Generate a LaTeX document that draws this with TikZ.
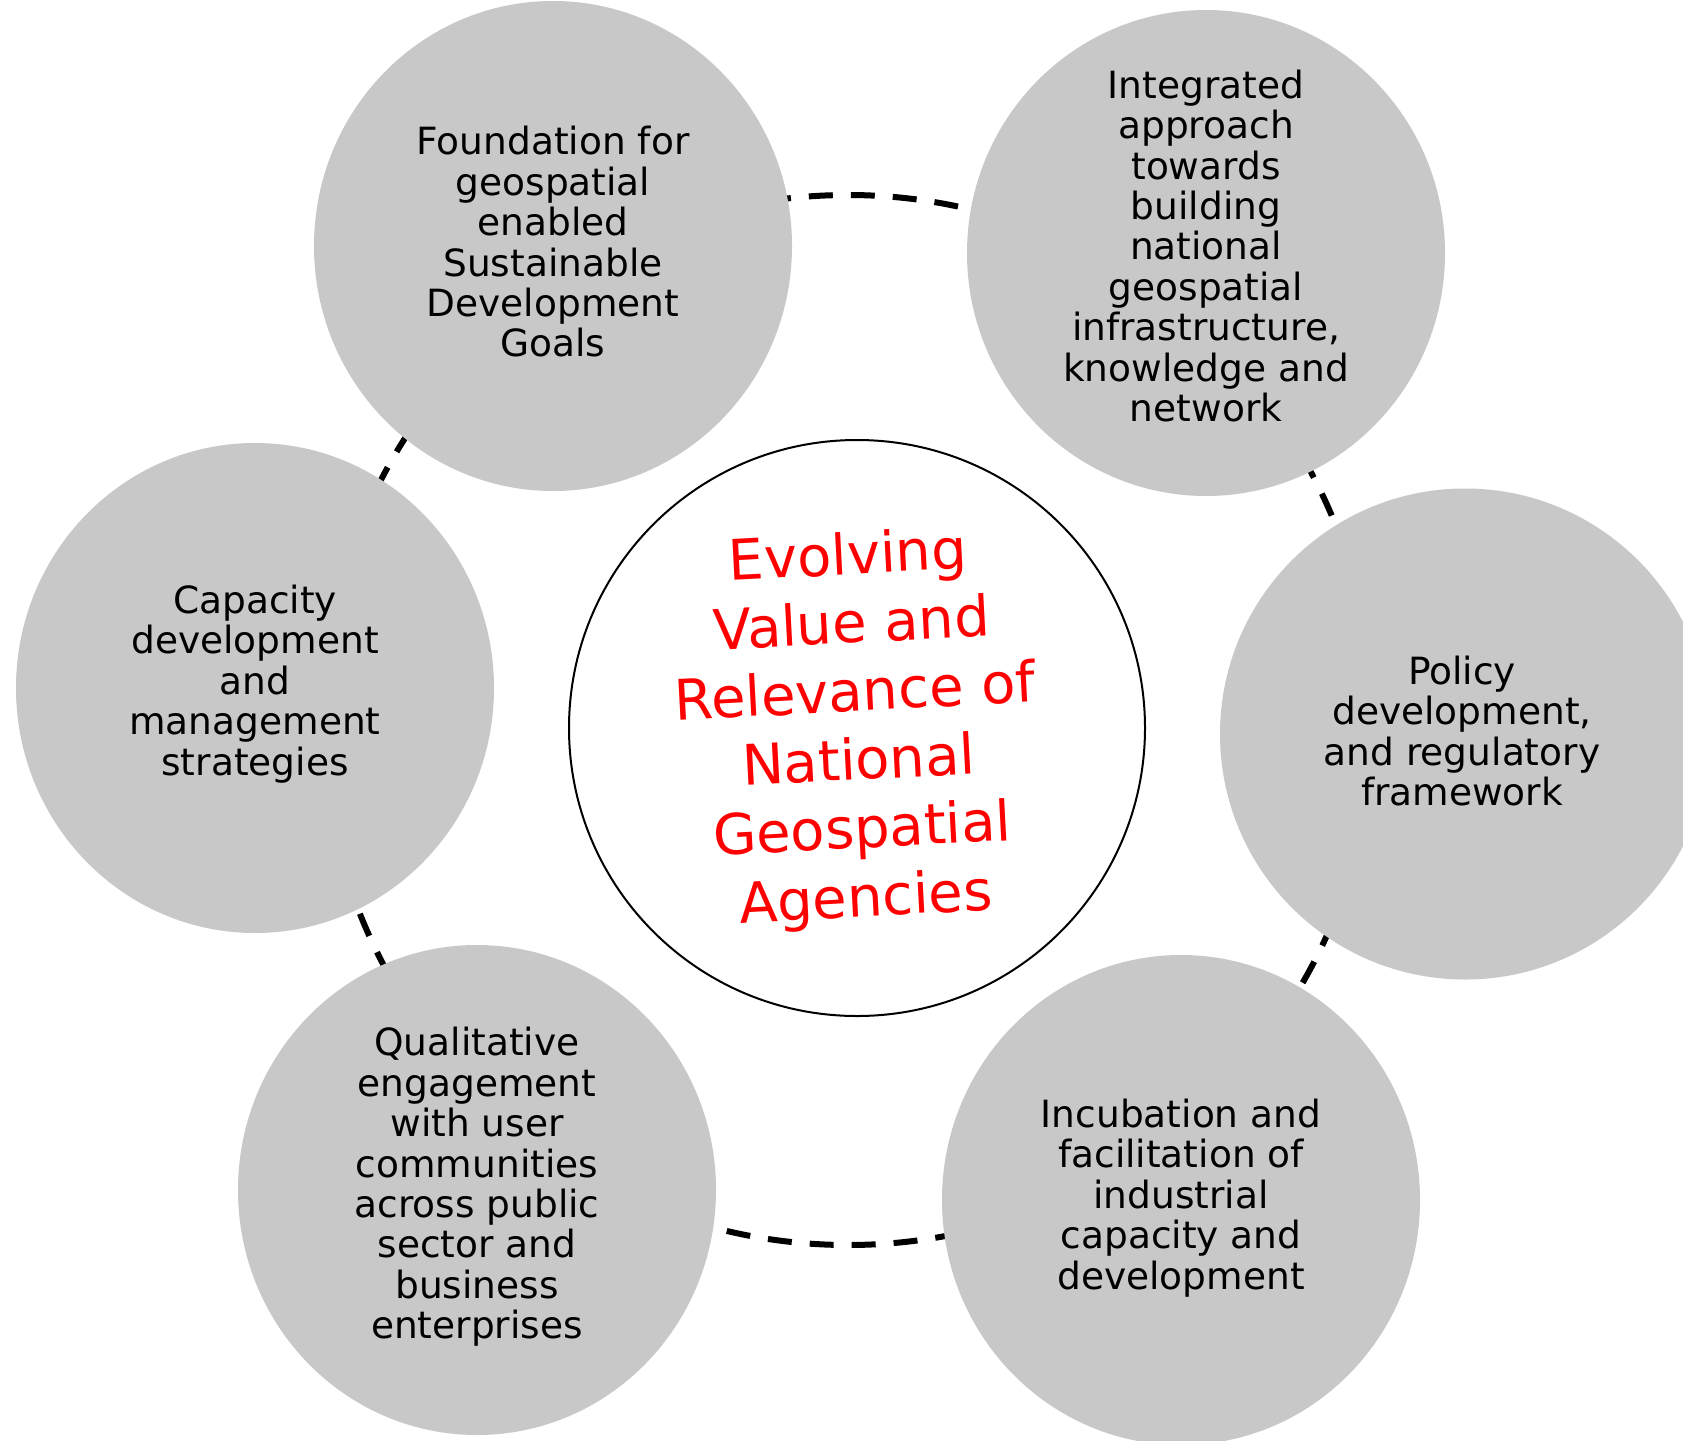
\documentclass[tikz,border=0pt]{standalone}
\usetikzlibrary{shapes.geometric}
\usepackage{fontspec}
\setmainfont{DejaVu Sans}
\definecolor{bubblegray}{HTML}{C8C8C8}
\definecolor{titlered}{HTML}{FF0000}
\begin{document}
\begin{tikzpicture}[x=1pt,y=-1pt,
  bubble/.style={ellipse, fill=bubblegray, draw=none, minimum width=478pt, minimum height=490pt, inner sep=0pt},
  bubbletext/.style={align=center, text=black, inner sep=0pt, font=\fontsize{37.5}{40.4}\selectfont},
  hub/.style={circle, draw=black, line width=2pt, fill=white, minimum size=576pt, inner sep=0pt},
  hubtext/.style={align=center, text=titlered, font=\fontsize{56}{68.5}\selectfont, rotate=3},
  ring/.style={circle, draw=black, line width=6pt, dash pattern=on 24pt off 18pt, minimum size=1050pt, inner sep=0pt}
]
\useasboundingbox (0,0) rectangle (1683,1440);
\clip (0,0) rectangle (1683,1440);
\fill[white] (0,0) rectangle (1683,1440);

\node[ring] (loop) at (848,720) {};

\node[hub] (center) at (857,728) {};
\node[hubtext] (title) at (857,730) {Evolving\\Value and\\Relevance of\\National\\Geospatial\\Agencies};

\node[bubble] (sdg) at (553,246) {};
\node[bubble, minimum height=486pt] (infra) at (1206,253) {};
\node[bubble, minimum width=490pt, minimum height=491pt] (policy) at (1465,734) {};
\node[bubble] (incub) at (1181,1200) {};
\node[bubble] (engage) at (477,1190) {};
\node[bubble] (capacity) at (255,688) {};

\node[bubbletext] (sdgtext) at (553,242) {Foundation for\\geospatial\\enabled\\Sustainable\\Development\\Goals};
\node[bubbletext] (infratext) at (1206,246) {Integrated\\approach\\towards\\building\\national\\geospatial\\infrastructure,\\knowledge and\\network};
\node[bubbletext] (policytext) at (1462,731) {Policy\\development,\\and regulatory\\framework};
\node[bubbletext] (incubtext) at (1181,1198) {Incubation and\\facilitation of\\industrial\\capacity and\\development};
\node[bubbletext] (engagetext) at (477,1187) {Qualitative\\engagement\\with user\\communities\\across public\\sector and\\business\\enterprises};
\node[bubbletext] (capacitytext) at (255,684) {Capacity\\development\\and\\management\\strategies};
\end{tikzpicture}
\end{document}
